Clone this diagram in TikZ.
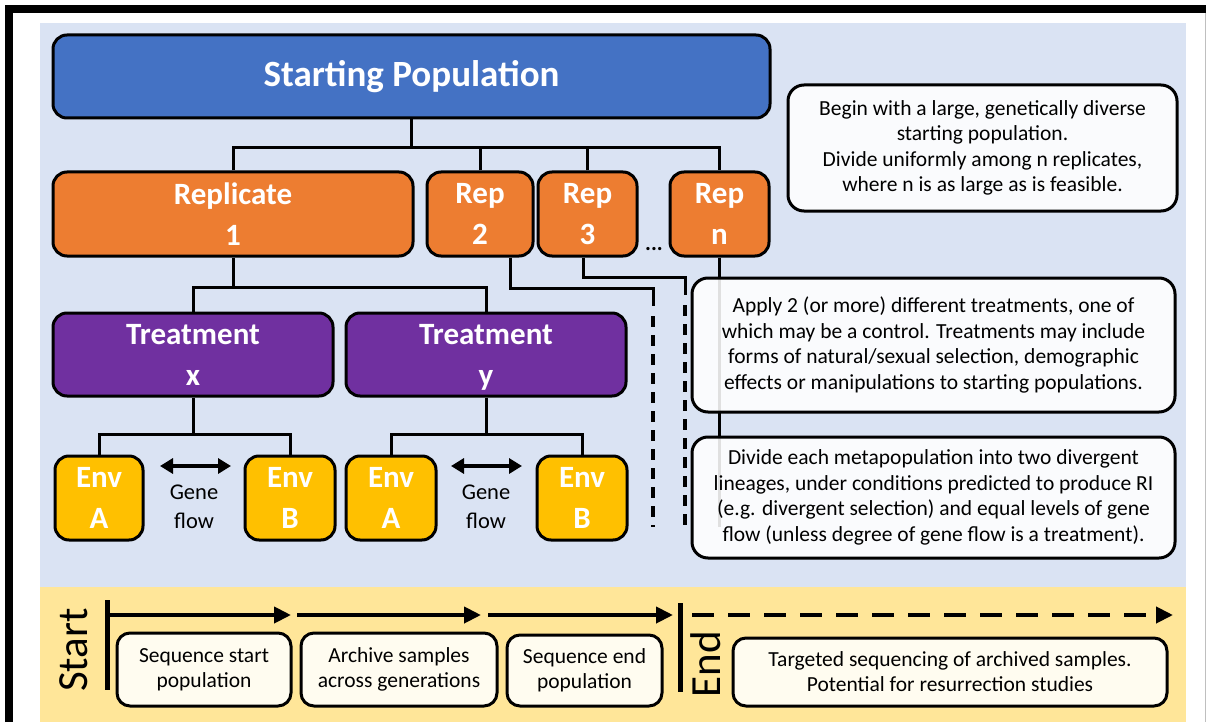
\documentclass[tikz,border=0pt]{standalone}
\usepackage{fontspec}
\setmainfont{Carlito}
\usetikzlibrary{arrows.meta}
\definecolor{bgblue}{HTML}{DAE3F3}
\definecolor{bgyellow}{HTML}{FFE699}
\definecolor{cream}{HTML}{FFFCF0}
\definecolor{cblue}{HTML}{4472C4}
\definecolor{corange}{HTML}{ED7D31}
\definecolor{cpurple}{HTML}{7030A0}
\definecolor{cgold}{HTML}{FFC000}
\pgfdeclarelayer{back}
\pgfdeclarelayer{lines}
\pgfsetlayers{back,lines,main}
\tikzset{
  box/.style={draw=black, line width=3pt, rounded corners=14pt, text=white,
    font=\bfseries\fontsize{31}{41}\selectfont, align=center, inner sep=0pt},
  note/.style={draw=black, line width=3pt, rounded corners=16pt, fill=white,
    fill opacity=0.88, text opacity=1, font=\fontsize{21.5}{25.5}\selectfont,
    align=center, inner sep=0pt},
  creambox/.style={draw=black, line width=3pt, rounded corners=13pt, fill=cream,
    font=\fontsize{21.5}{25}\selectfont, align=center, inner sep=0pt},
  conn/.style={line width=3pt},
  dashconn/.style={line width=3.6pt, dash pattern=on 11pt off 8pt},
  tl/.style={line width=4pt, -{Triangle[length=17pt,width=16pt]}},
  gf/.style={line width=4pt, {Triangle[length=13pt,width=15pt]}-{Triangle[length=13pt,width=15pt]}},
  bar/.style={line width=5pt}
}
\begin{document}
\begin{tikzpicture}[x=1pt,y=-1pt]
\useasboundingbox (0,0) rectangle (1206,722);
\begin{pgfonlayer}{back}
  \fill[bgblue] (40,23) rectangle (1186,587);
  \fill[bgyellow] (40,587) rectangle (1186,722);
  \draw[line width=8pt] (9,722) -- (9,9) -- (1206,9);
  \draw[black!25, line width=1pt] (1205,13) -- (1205,722);
\end{pgfonlayer}

% main boxes
\node[box, fill=cblue, minimum width=717pt, minimum height=83pt, font=\bfseries\fontsize{37}{41}\selectfont] (sp) at (411.5,76.5) {\raisebox{-3pt}{Starting Population}};
\node[box, fill=corange, minimum width=360pt, minimum height=84pt] (r1) at (233,214) {Replicate\\1};
\node[box, fill=corange, minimum width=106pt, minimum height=84pt] (r2) at (480,214) {Rep\\2};
\node[box, fill=corange, minimum width=99pt, minimum height=84pt] (r3) at (587.5,214) {Rep\\3};
\node[box, fill=corange, minimum width=99pt, minimum height=84pt] (rn) at (719.5,214) {Rep\\n};
\node[font=\bfseries\fontsize{22}{24}\selectfont] (dots) at (654,249) {...};

\node[box, fill=cpurple, minimum width=280pt, minimum height=83pt] (tx) at (193,354.5) {Treatment\\x};
\node[box, fill=cpurple, minimum width=280pt, minimum height=83pt] (ty) at (486,354.5) {Treatment\\\smash{y}};

\node[box, fill=cgold, minimum width=88pt, minimum height=84pt] (ea1) at (99,498) {Env\\A};
\node[box, fill=cgold, minimum width=90pt, minimum height=84pt] (eb1) at (290,498) {Env\\B};
\node[box, fill=cgold, minimum width=90pt, minimum height=84pt] (ea2) at (391,498) {Env\\A};
\node[box, fill=cgold, minimum width=90pt, minimum height=84pt] (eb2) at (582,498) {Env\\B};

\node[font=\fontsize{22.5}{29}\selectfont, align=center] (g1) at (194,507) {Gene\\flow};
\node[font=\fontsize{22.5}{29}\selectfont, align=center] (g2) at (486,507) {Gene\\flow};
\coordinate (g1l) at (160,466); \coordinate (g1r) at (231,466);
\coordinate (g2l) at (451,466); \coordinate (g2r) at (522,466);
\draw[gf] (g1l) -- (g1r);
\draw[gf] (g2l) -- (g2r);

% notes
\node[note, minimum width=389pt, minimum height=126pt] (nb) at (982.5,148) {Begin with a large, genetically diverse\\starting population.\\Divide uniformly among n replicates,\\where n is as large as is feasible.};
\node[note, minimum width=483pt, minimum height=134pt] (na) at (933.5,345) {Apply 2 (or more) different treatments, one of\\which may be a control. Treatments may include\\forms of natural/sexual selection, demographic\\effects or manipulations to starting populations.};
\node[note, minimum width=483pt, minimum height=121pt] (nd) at (933.5,497.5) {Divide each metapopulation into two divergent\\lineages, under conditions predicted to produce RI\\(e.g. divergent selection) and equal levels of gene\\flow (unless degree of gene flow is a treatment).};

% connectors
\coordinate (j0) at (0,148);
\coordinate (j1) at (0,287);
\coordinate (j2) at (0,434);
\coordinate (k2) at (653,288);
\coordinate (k2s) at (653,306);
\coordinate (k2d) at (653,316);
\coordinate (k2e) at (653,527);
\coordinate (k3) at (685,277);
\coordinate (k3s) at (685,295);
\coordinate (k3d) at (685,305);
\coordinate (k3e) at (685,527);
\coordinate (kne) at (719.5,527);
\begin{pgfonlayer}{lines}
  \draw[conn] (sp.south) -- (sp.south |- j0);
  \draw[conn] (r1.north) -- (r1.north |- j0) -- (rn.north |- j0) -- (rn.north);
  \draw[conn] (r2.north) -- (r2.north |- j0);
  \draw[conn] (r3.north) -- (r3.north |- j0);
  \draw[conn] (r1.south) -- (r1.south |- j1);
  \draw[conn] (tx.north) -- (tx.north |- j1) -- (ty.north |- j1) -- (ty.north);
  \draw[conn] (tx.south) -- (tx.south |- j2);
  \draw[conn] (ea1.north) -- (ea1.north |- j2) -- (eb1.north |- j2) -- (eb1.north);
  \draw[conn] (ty.south) -- (ty.south |- j2);
  \draw[conn] (ea2.north) -- (ea2.north |- j2) -- (eb2.north |- j2) -- (eb2.north);
  \draw[conn] ([xshift=30pt]r2.south) |- (k2) -- (k2s);
  \draw[dashconn] (k2d) -- (k2e);
  \draw[conn] ([xshift=-4pt]r3.south) |- (k3) -- (k3s);
  \draw[dashconn] (k3d) -- (k3e);
  \draw[conn] (rn.south) -- (kne);
\end{pgfonlayer}

% timeline
\node[rotate=90, font=\fontsize{43}{45}\selectfont] (start) at (74,650) {Start};
\node[rotate=90, font=\fontsize{43}{45}\selectfont] (end) at (706,664) {End};
\coordinate (sb1) at (107,600); \coordinate (sb2) at (107,690);
\coordinate (eb1t) at (680,603); \coordinate (eb2t) at (680,692);
\draw[bar] (sb1) -- (sb2);
\draw[bar] (eb1t) -- (eb2t);
\coordinate (t0) at (107,615); \coordinate (t1) at (291,615);
\coordinate (t2) at (297,615); \coordinate (t3) at (481,615);
\coordinate (t4) at (488,615); \coordinate (t5) at (673,615);
\coordinate (t6) at (692,615); \coordinate (t7) at (1173,615);
\draw[tl] (t0) -- (t1);
\draw[tl] (t2) -- (t3);
\draw[tl] (t4) -- (t5);
\draw[tl, dash pattern=on 22pt off 14pt] (t6) -- (t7);

\node[creambox, minimum width=174pt, minimum height=73pt] (s1) at (204,669.5) {Sequence start\\population};
\node[creambox, minimum width=196pt, minimum height=73pt] (s2) at (399,669.5) {Archive samples\\across generations};
\node[creambox, minimum width=155pt, minimum height=71pt] (s3) at (584.5,670.5) {Sequence end\\population};
\node[creambox, minimum width=434pt, minimum height=68pt] (s4) at (950,672) {Targeted sequencing of archived samples.\\Potential for resurrection studies};
\end{tikzpicture}
\end{document}
